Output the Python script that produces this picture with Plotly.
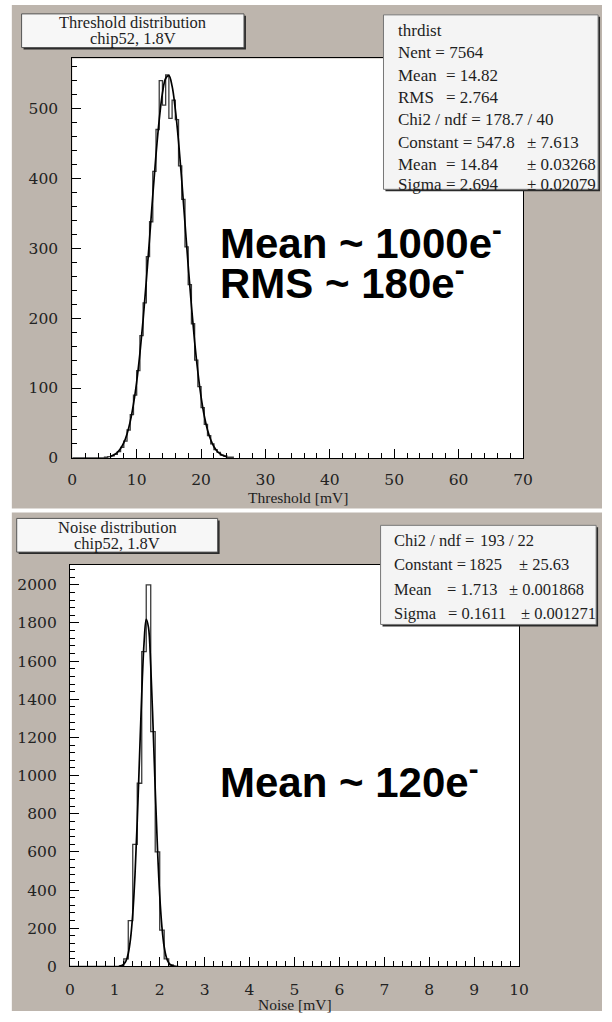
import numpy as np
import plotly.graph_objects as go

W, H = 612, 1022

# ---------------- data ----------------
# Threshold distribution: 0.5 mV bins starting at 5.0 mV
thr_bin_start = 5.0
thr_bin_width = 0.5
thr_counts = [1, 2, 3, 5, 9, 15, 24, 40, 62, 90,
              125, 175, 222, 288, 338, 410, 470, 540, 505, 548,
              486, 512, 484, 418, 370, 302, 248, 192, 140, 102,
              72, 48, 32, 20, 12, 8, 4, 3, 1, 1]
# Gaussian fit curve as drawn
thr_fit_x = [6, 6.5, 7, 7.5, 8, 8.5, 9, 9.5, 10, 10.5, 11, 11.5, 12, 12.5,
             13, 13.5, 14, 14.5, 15, 15.5, 16, 16.5, 17, 17.5, 18, 18.5,
             19, 19.5, 20, 20.5, 21, 21.5, 22, 22.5, 23, 23.5, 24]
thr_fit_y = [2.5, 4.5, 7.9, 13.4, 21.8, 34.4, 52.3, 76.9, 109, 149.6, 198, 254,
             314, 376, 434, 484, 522, 543, 547, 532, 499, 453, 397, 336, 275,
             218, 166, 123, 87.5, 60, 40, 26, 16, 9.6, 5.6, 3.1, 1.7]

# Noise distribution: 0.1 mV bins starting at 1.0 mV
noise_bin_start = 1.0
noise_bin_width = 0.1
noise_counts = [0, 3, 40, 240, 640, 960, 1650, 2000, 1230, 600, 190, 40, 8, 1]
noise_fit_x = [1.10, 1.15, 1.20, 1.25, 1.30, 1.35, 1.40, 1.45, 1.50, 1.55, 1.60,
               1.65, 1.70, 1.75, 1.80, 1.85, 1.90, 1.95, 2.00, 2.05, 2.10, 2.15,
               2.20, 2.25, 2.30, 2.35]
noise_fit_y = [1.3, 4.0, 11.5, 29, 68, 144, 276, 481, 762, 1094, 1427, 1690, 1819,
               1777, 1577, 1272, 930, 619, 373, 205, 102, 46, 19, 7, 2.4, 0.7]

thr_title = ["Threshold distribution", "chip52, 1.8V"]
noise_title = ["Noise distribution", "chip52, 1.8V"]

thr_stats = [
    ["thrdist"],
    ["Nent = 7564"],
    ["Mean", "= 14.82"],
    ["RMS", "= 2.764"],
    ["Chi2 / ndf = 178.7 / 40"],
    ["Constant = 547.8", "", "\u00b1 7.613"],
    ["Mean", "= 14.84", "\u00b1 0.03268"],
    ["Sigma", "= 2.694", "\u00b1 0.02079"],
]
noise_stats = [
    ["Chi2 / ndf =", "193 / 22"],
    ["Constant =", "1825", "\u00b1 25.63"],
    ["Mean", "= 1.713", "\u00b1 0.001868"],
    ["Sigma", "= 0.1611", "\u00b1 0.001271"],
]

# ---------------- helpers ----------------
def px(x):
    return x / W

def py(y):
    return 1 - y / H

def rect(x0, y0, x1, y1, fill, line=None, lw=0, layer="below"):
    return dict(type="rect", xref="paper", yref="paper",
                x0=px(x0), x1=px(x1), y0=py(y1), y1=py(y0),
                fillcolor=fill, line=dict(color=line or fill, width=lw), layer=layer)

def step_xy(start, width, counts):
    edges = start + width * np.arange(len(counts) + 1)
    xs = [0.0] + list(edges[:-1]) + [edges[-1]]
    ys = [0.0] + list(counts) + [0.0]
    return xs, ys

GRAY = "#bdb5ad"
SERIF = "Liberation Serif"
TICKSERIF = "DejaVu Serif"

fig = go.Figure()

tx, ty = step_xy(thr_bin_start, thr_bin_width, thr_counts)
fig.add_trace(go.Scatter(x=tx, y=ty, mode="lines", line=dict(color="#3a3a3a", width=1.3, shape="hv"),
                         xaxis="x", yaxis="y", showlegend=False, hoverinfo="skip"))
fig.add_trace(go.Scatter(x=thr_fit_x, y=thr_fit_y, mode="lines",
                         line=dict(color="black", width=1.7, shape="spline"),
                         xaxis="x", yaxis="y", showlegend=False))

nx, ny = step_xy(noise_bin_start, noise_bin_width, noise_counts)
fig.add_trace(go.Scatter(x=nx, y=ny, mode="lines", line=dict(color="#3a3a3a", width=1.3, shape="hv"),
                         xaxis="x2", yaxis="y2", showlegend=False, hoverinfo="skip"))
fig.add_trace(go.Scatter(x=noise_fit_x, y=noise_fit_y, mode="lines",
                         line=dict(color="black", width=1.7, shape="spline"),
                         xaxis="x2", yaxis="y2", showlegend=False))

# ---------------- geometry ----------------
T_L, T_R, T_T, T_B = 69, 531, 59, 462
B_L, B_R, B_T, B_B = 66.5, 527, 570, 975

tickfont = dict(family=TICKSERIF, size=15.5, color="#222222")
common = dict(showgrid=False, zeroline=False, showline=True, linecolor="black", linewidth=1,
              mirror=True, ticks="inside", ticklen=9, tickcolor="black", tickwidth=1,
              tickfont=tickfont)

fig.update_layout(
    width=W, height=H, margin=dict(l=0, r=0, t=0, b=0),
    paper_bgcolor="white", plot_bgcolor="white",
    xaxis=dict(domain=[px(T_L), px(T_R)], range=[0, 70], dtick=10, tick0=0, anchor="y",
               minor=dict(dtick=2, ticks="inside", ticklen=5, tickcolor="black"),
               ticklabelstandoff=7, **common),
    yaxis=dict(domain=[py(T_B), py(T_T)], range=[0, (T_B - T_T) / 0.705], dtick=100, tick0=0,
               anchor="x", minor=dict(dtick=20, ticks="inside", ticklen=5, tickcolor="black"),
               ticklabelstandoff=10, **common),
    xaxis2=dict(domain=[px(B_L), px(B_R)], range=[0, 10], dtick=1, tick0=0, anchor="y2",
                minor=dict(dtick=0.2, ticks="inside", ticklen=5, tickcolor="black"),
                ticklabelstandoff=9, **common),
    yaxis2=dict(domain=[py(B_B), py(B_T)], range=[0, (B_B - B_T) / 0.1925], dtick=200, tick0=0,
                anchor="x2", minor=dict(dtick=40, ticks="inside", ticklen=5, tickcolor="black"),
                ticklabelstandoff=9, **common),
)

shapes = [
    rect(7, 5, 612, 513, GRAY),
    rect(7, 517, 612, 1020, GRAY),
    rect(T_L, T_T, T_R, T_B, "white"),
    rect(B_L, B_T, B_R, B_B, "white"),
    # title boxes (shadow + box)
    rect(19, 16, 247, 50, "#2a2a2a", layer="above"),
    rect(17, 14, 245, 48, "#f7f7f7", line="#555555", lw=1, layer="above"),
    rect(14, 525, 220, 559, "#2a2a2a", layer="above"),
    rect(12, 523, 218, 557, "#f7f7f7", line="#555555", lw=1, layer="above"),
    # stats boxes
    rect(390, 17, 610, 193, "#2a2a2a", layer="above"),
    rect(388, 15, 608, 191, "#f4f4f4", line="#777777", lw=1, layer="above"),
    rect(387, 532, 608, 632, "#2a2a2a", layer="above"),
    rect(385, 530, 606, 630, "#f4f4f4", line="#777777", lw=1, layer="above"),
]
fig.update_layout(shapes=shapes)

ann = []

def text(x, y, s, size=17, family=SERIF, anchor="left", color="#1e1e1e", bold=False):
    ann.append(dict(xref="paper", yref="paper", x=px(x), y=py(y), text=s, showarrow=False,
                    xanchor=anchor, yanchor="middle",
                    font=dict(family=family, size=size, color=color,
                              weight="bold" if bold else "normal")))

# titles
text(131, 23, thr_title[0], size=16.5, anchor="center")
text(131, 39, thr_title[1], size=16.5, anchor="center")
text(115, 532, noise_title[0], size=16.5, anchor="center")
text(115, 548, noise_title[1], size=16.5, anchor="center")

# top stats
thr_rows_y = [31, 53, 76, 98, 121, 144, 166, 186]
thr_cols = [401, 450, 533]
for row, yy in zip(thr_stats, thr_rows_y):
    for j, s in enumerate(row):
        if s:
            text(thr_cols[j], yy, s, size=17)

noise_rows_y = [545, 570, 595, 619]
noise_cols = [[397, 485], [397, 474, 525], [397, 451, 515], [397, 452, 527]]
for row, yy, cols in zip(noise_stats, noise_rows_y, noise_cols):
    for s, xx in zip(row, cols):
        if s:
            text(xx, yy, s, size=16.5)

# axis titles
text(300, 502, "Threshold [mV]", size=15.5, anchor="center")
text(297, 1013, "Noise [mV]", size=15.5, anchor="center")

# big annotations
text(218, 242, "Mean ~ 1000e<sup>-</sup>", size=42, family="Liberation Sans", color="black", bold=True)
text(218, 282, "RMS ~ 180e<sup>-</sup>", size=42, family="Liberation Sans", color="black", bold=True)
text(218, 786, "Mean ~ 120e<sup>-</sup>", size=42, family="Liberation Sans", color="black", bold=True)

fig.update_layout(annotations=ann)
fig.write_html("out.html")
